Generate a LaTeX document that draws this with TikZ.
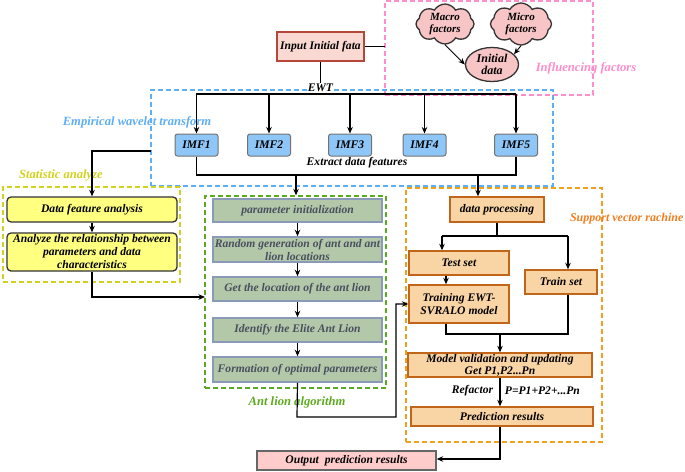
\documentclass[tikz,border=0pt]{standalone}
\usepackage{fontspec}
\setmainfont{Liberation Serif}
\usetikzlibrary{shapes.symbols,shapes.geometric,arrows.meta}
\definecolor{pinkdash}{HTML}{FF8CCB}
\definecolor{bluedash}{HTML}{5EAEF5}
\definecolor{yeldash}{HTML}{D2D21E}
\definecolor{grndash}{HTML}{5DAA20}
\definecolor{orgdash}{HTML}{F0A01E}
\definecolor{orglab}{HTML}{F07D1E}
\definecolor{inpfill}{HTML}{F9D9D2}
\definecolor{inpdraw}{HTML}{B5473A}
\definecolor{cloudfill}{HTML}{F7C5C5}
\definecolor{imffill}{HTML}{8DC6F7}
\definecolor{yelfill}{HTML}{FFFF80}
\definecolor{grnfill}{HTML}{B2C8A9}
\definecolor{grndraw}{HTML}{8A9AB8}
\definecolor{grntext}{HTML}{4A4F5E}
\definecolor{orgfill}{HTML}{F9D4A4}
\definecolor{orgdraw}{HTML}{C0651A}
\definecolor{outfill}{HTML}{FFCCCC}
\begin{document}
\begin{tikzpicture}[x=1pt,y=-1pt,
  font=\fontsize{11.6}{12.5}\selectfont\bfseries\itshape,
  line width=1.2pt,
  arr/.style={-{Stealth[length=6.5pt,width=5.5pt]}},
  frame/.style={draw, dashed, dash pattern=on 5pt off 3pt, line width=1.3pt, inner sep=0pt},
  flab/.style={font=\fontsize{12.6}{14}\selectfont\bfseries\itshape},
  boxbase/.style={inner sep=0pt, align=center},
  imfbox/.style={boxbase, draw=black!55, line width=1pt, fill=imffill, rounded corners=2.5pt, minimum width=43, minimum height=22},
  yelbox/.style={boxbase, draw=black!80, line width=1.3pt, fill=yelfill, rounded corners=4pt, minimum width=170},
  grnbox/.style={boxbase, draw=grndraw, line width=1.5pt, fill=grnfill, text=grntext, minimum width=169},
  orgbox/.style={boxbase, draw=orgdraw, line width=1.4pt, fill=orgfill},
  cloudbox/.style={cloud, cloud puffs=8, cloud puff arc=120, aspect=1.4, draw=black!80, line width=1.3pt, fill=cloudfill, inner sep=0pt, align=center, font=\fontsize{11}{11.5}\selectfont\bfseries\itshape}
]
\useasboundingbox (0,0) rectangle (685,471);

% frames
\node[frame, draw=pinkdash, minimum width=208, minimum height=94] (frP) at (489,48) {};
\node[frame, draw=bluedash, minimum width=402, minimum height=96] (frB) at (352,138) {};
\node[frame, draw=yeldash, minimum width=177, minimum height=95] (frY) at (91.5,234.5) {};
\node[frame, draw=grndash, minimum width=181, minimum height=192] (frG) at (295.5,292) {};
\node[frame, draw=orgdash, minimum width=196, minimum height=254] (frO) at (504,315) {};

% frame labels
\node[flab, text=pinkdash] (labP) at (586,68) {Influencing factors};
\node[flab, text=bluedash] (labB) at (137,122) {Empirical wavelet transform};
\node[flab, text=yeldash] (labY) at (61,175) {Statistic analyze};
\node[flab, text=grndash] (labG) at (297,402) {Ant lion algorithm};
\node[flab, font=\fontsize{12}{13}\selectfont\bfseries\itshape, text=orglab, anchor=east, inner sep=0pt] (labO) at (684,219) {Support vector rachine};

% influencing factors
\node[boxbase, draw=inpdraw, line width=2pt, fill=inpfill, minimum width=87, minimum height=29] (inp) at (320.5,46.5) {Input Initial fata};
\node[cloudbox, minimum width=58, minimum height=40] (mac) at (445,24) {Macro\\factors};
\node[cloudbox, minimum width=61, minimum height=42] (mic) at (521,24) {Micro\\factors};
\node[ellipse, draw=black!80, line width=1.3pt, fill=cloudfill, minimum width=53, minimum height=34, inner sep=0pt, align=center, font=\fontsize{12}{12.5}\selectfont\bfseries\itshape] (ini) at (492,64.5) {Initial\\data};
\draw[arr, line width=0.9pt] (mac.south) -- (ini.west);
\draw[arr, line width=0.9pt] (mic.south) -- (ini.25);
\coordinate (kP) at (385,46.5);
\draw (inp.east) -- (kP);

% EWT
\coordinate (hL) at (196,94);
\coordinate (hR) at (516,94);
\draw (hL) -- (hR);
\node[fill=white, inner sep=1pt] (ewt) at (320.5,88) {EWT};
\draw (inp.south) -- (ewt.north);

\node[imfbox] (imf1) at (196.5,145) {IMF1};
\node[imfbox] (imf2) at (269,145) {IMF2};
\node[imfbox] (imf3) at (350,145) {IMF3};
\node[imfbox] (imf4) at (424.5,145) {IMF4};
\node[imfbox] (imf5) at (516,145) {IMF5};
\foreach \n in {imf1,imf2,imf3,imf4,imf5}{
  \draw[arr] (\n.north |- hL) -- (\n.north);
}
\node (ext) at (357,163) {Extract data features};
\coordinate (cR) at (516,175);
\draw (imf1.south) |- (cR) -- (imf5.south);
\coordinate (cG) at (296,175);
\coordinate (cO) at (478,175);

% statistic analyze
\node[yelbox, minimum height=25] (dfa) at (92,209.5) {Data feature analysis};
\node[yelbox, minimum height=38, font=\fontsize{11.6}{13}\selectfont\bfseries\itshape] (ana) at (92,252) {Analyze the relationship between\\parameters and data\\characteristics};
\coordinate (kB) at (151,151);
\draw[arr] (kB) -| (dfa.north);
\draw[arr] (dfa.south) -- (ana.north);
\coordinate (kG) at (205,297);
\draw[arr] (ana.south) |- (kG);

% ant lion
\node[grnbox, minimum height=23] (g1) at (297.5,210.5) {parameter initialization};
\node[grnbox, minimum height=25, font=\fontsize{11.6}{13}\selectfont\bfseries\itshape] (g2) at (297.5,249.5) {Random generation of ant and ant\\lion locations};
\node[grnbox, minimum height=24] (g3) at (297.5,289) {Get the location of the ant lion};
\node[grnbox, minimum height=24] (g4) at (297.5,330) {Identify the Elite Ant Lion};
\node[grnbox, minimum height=25] (g5) at (297.5,369.5) {Formation of optimal parameters};
\draw[arr] (cG) -- (cG |- frG.north);
\draw[arr] (g1) -- (g2);
\draw[arr] (g2) -- (g3);
\draw[arr] (g3) -- (g4);
\draw[arr] (g4) -- (g5);

% SVR
\node[orgbox, minimum width=94, minimum height=25] (dp) at (497,209.5) {data processing};
\draw[arr] (cO) -- (cO |- dp.north);
\node[orgbox, minimum width=100, minimum height=24] (test) at (459,263) {Test set};
\node[orgbox, minimum width=72, minimum height=24] (train) at (561,282) {Train set};
\node[orgbox, minimum width=100, minimum height=38, font=\fontsize{11.6}{13}\selectfont\bfseries\itshape] (trn) at (459,304) {Training EWT-\\SVRALO model};
\coordinate (sM) at (497,236);
\coordinate (sL) at (442,236);
\coordinate (sR) at (568,236);
\draw (dp.south) -- (sM);
\draw (sL) -- (sR);
\draw[arr] (sL) -- (sL |- test.north);
\draw[arr] (sR) -- (sR |- train.north);
\coordinate (tx) at (446,280);
\draw[arr] (tx |- test.south) -- (tx |- trn.north);
\coordinate (mL) at (446,334);
\coordinate (mR) at (568,334);
\coordinate (mC) at (500,334);
\draw (tx |- trn.south) -- (mL) -- (mR) -- (mR |- train.south);
\node[orgbox, minimum width=184, minimum height=24, font=\fontsize{11.6}{12}\selectfont\bfseries\itshape] (mod) at (500,365) {Model validation and updating\\Get P1,P2...Pn};
\draw[arr] (mC) -- (mod.north);
\node[orgbox, minimum width=182, minimum height=19] (pred) at (502,416.5) {Prediction results};
\coordinate (rx) at (500,400);
\draw[arr] (rx |- mod.south) -- (rx |- pred.north);
\node[anchor=east] (ref1) at (497,391) {Refactor};
\node[anchor=west] (ref2) at (501,391) {P=P1+P2+...Pn};

% training input from ant lion
\coordinate (kT1) at (297,417);
\coordinate (kT2) at (396,417);
\draw[arr] (g5.south) -- (kT1) -- (kT2) |- (trn.west);

% output
\node[boxbase, draw=black!60, line width=1.3pt, fill=outfill, minimum width=179, minimum height=19] (out) at (346.5,460.5) {Output\ \ prediction results};
\coordinate (kO) at (500,459);
\draw[arr] (rx |- pred.south) -- (kO) -- (kO -| out.east);
\end{tikzpicture}
\end{document}
